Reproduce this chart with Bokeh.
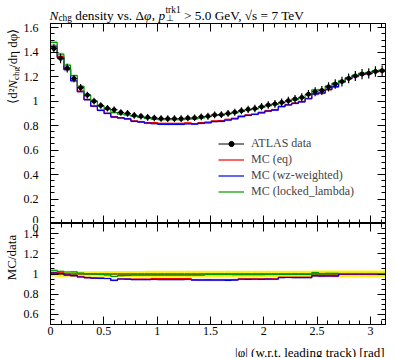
import numpy as np
from bokeh.plotting import figure
from bokeh.layouts import column, row
from bokeh.models import (Range1d, SingleIntervalTicker, FixedTicker, LinearAxis, Label,
                          Legend, LegendItem, CustomJSTickFormatter)
from bokeh.embed import file_html
from bokeh.resources import INLINE

SERIF = "Liberation Serif"

# ---------------- data ----------------
n_bins = 50
phi_min, phi_max = 0.0, np.pi

data_y = [1.430, 1.350, 1.270, 1.185, 1.110, 1.050, 1.000, 0.965, 0.942, 0.930,
          0.908, 0.900, 0.884, 0.877, 0.868, 0.863, 0.858, 0.857, 0.857, 0.857,
          0.862, 0.864, 0.872, 0.877, 0.888, 0.890, 0.900, 0.910, 0.922, 0.933,
          0.940, 0.955, 0.969, 0.978, 0.990, 1.004, 1.018, 1.031, 1.057, 1.077,
          1.088, 1.117, 1.140, 1.160, 1.186, 1.206, 1.222, 1.228, 1.243, 1.249]
data_err = [0.035, 0.040, 0.035, 0.030, 0.030, 0.028, 0.028, 0.027, 0.027, 0.027,
            0.027, 0.027, 0.027, 0.027, 0.027, 0.027, 0.027, 0.027, 0.027, 0.027,
            0.027, 0.027, 0.028, 0.028, 0.028, 0.028, 0.028, 0.029, 0.029, 0.030,
            0.030, 0.030, 0.031, 0.031, 0.032, 0.032, 0.033, 0.034, 0.035, 0.036,
            0.037, 0.038, 0.039, 0.040, 0.040, 0.041, 0.042, 0.042, 0.043, 0.043]
mc_eq = [1.451, 1.364, 1.264, 1.167, 1.082, 1.013, 0.960, 0.926, 0.900, 0.874,
         0.863, 0.855, 0.840, 0.833, 0.825, 0.824, 0.819, 0.818, 0.818, 0.818,
         0.823, 0.816, 0.824, 0.829, 0.839, 0.841, 0.851, 0.860, 0.878, 0.888,
         0.895, 0.909, 0.922, 0.931, 0.957, 0.971, 0.984, 0.997, 1.022, 1.061,
         1.066, 1.095, 1.117, 1.158, 1.184, 1.204, 1.220, 1.226, 1.241, 1.246]
mc_wz = [1.444, 1.357, 1.257, 1.167, 1.077, 1.013, 0.960, 0.924, 0.900, 0.870,
         0.863, 0.855, 0.835, 0.829, 0.820, 0.816, 0.811, 0.810, 0.810, 0.810,
         0.815, 0.812, 0.818, 0.823, 0.833, 0.835, 0.844, 0.855, 0.874, 0.884,
         0.891, 0.905, 0.919, 0.927, 0.955, 0.969, 0.982, 0.995, 1.020, 1.058,
         1.068, 1.097, 1.119, 1.160, 1.186, 1.206, 1.222, 1.228, 1.243, 1.249]
mc_ll = [1.480, 1.384, 1.295, 1.209, 1.121, 1.050, 1.000, 0.960, 0.933, 0.907,
         0.894, 0.887, 0.875, 0.868, 0.859, 0.854, 0.849, 0.848, 0.848, 0.848,
         0.853, 0.855, 0.863, 0.873, 0.884, 0.886, 0.896, 0.905, 0.917, 0.928,
         0.935, 0.950, 0.964, 0.973, 0.985, 0.999, 1.013, 1.026, 1.052, 1.093,
         1.093, 1.123, 1.146, 1.166, 1.192, 1.212, 1.228, 1.234, 1.249, 1.255]
mc_rel_err = [0.012, 0.012, 0.012, 0.011, 0.011, 0.011, 0.010, 0.010, 0.010, 0.010,
              0.010, 0.010, 0.010, 0.010, 0.010, 0.010, 0.010, 0.010, 0.010, 0.010,
              0.010, 0.010, 0.010, 0.010, 0.010, 0.010, 0.010, 0.010, 0.010, 0.010,
              0.010, 0.010, 0.010, 0.010, 0.010, 0.010, 0.010, 0.010, 0.010, 0.010,
              0.010, 0.010, 0.010, 0.010, 0.010, 0.010, 0.010, 0.010, 0.010, 0.010]

mc_names = ["MC (eq)", "MC (wz-weighted)", "MC (locked_lambda)"]
mc_values = [mc_eq, mc_wz, mc_ll]
mc_colors = ["#ee0000", "#0000ee", "#009a00"]
data_name = "ATLAS data"

main_y_range = (0.0, 1.635)
ratio_y_range = (0.5, 1.5)
ratio_major_ticks = [0.6, 0.8, 1.0, 1.2, 1.4]
ratio_minor_ticks = [0.5, 0.55, 0.6, 0.65, 0.7, 0.75, 0.8, 0.85, 0.9, 0.95, 1.0, 1.05, 1.1,
                     1.15, 1.2, 1.25, 1.3, 1.35, 1.4, 1.45, 1.5]
x_label = "|φ| (w.r.t. leading track) [rad]"
ratio_label = "MC/data"

# ---------------- derived binning ----------------
edges = np.linspace(phi_min, phi_max, n_bins + 1)
lo, hi = edges[:-1], edges[1:]
ctr = 0.5 * (lo + hi)
d = np.array(data_y)
de = np.array(data_err)
rel = np.array(mc_rel_err)

x_range = Range1d(phi_min, phi_max)

LEFT_TXT = 20      # width of the strip carrying the rotated y labels
FRAME_W = 335


def make_fig(frame_h, y_range, bottom):
    p = figure(frame_width=FRAME_W, frame_height=frame_h, x_range=x_range, y_range=y_range,
               output_backend="svg", toolbar_location=None,
               min_border_left=29, min_border_right=13,
               min_border_top=0, min_border_bottom=bottom,
               x_axis_type=None, y_axis_type=None)
    p.outline_line_color = "black"
    p.outline_line_width = 1
    p.background_fill_color = "white"
    p.border_fill_color = "white"
    return p


def text_fig(w, h):
    t = figure(width=w, height=h, x_range=Range1d(0, w), y_range=Range1d(0, h),
               output_backend="svg", toolbar_location=None,
               min_border_left=0, min_border_right=0, min_border_top=0, min_border_bottom=0,
               x_axis_type=None, y_axis_type=None)
    t.outline_line_color = None
    t.background_fill_color = "white"
    t.border_fill_color = "white"
    return t


def add_text(fig, x, y, text, size="13px", style="normal", align="left",
             baseline="alphabetic", angle=0.0):
    fig.add_layout(Label(x=x, y=y, x_units="screen", y_units="screen", text=text,
                         angle=angle, text_font=SERIF, text_font_size=size,
                         text_font_style=style, text_align=align,
                         text_baseline=baseline, text_color="black"))


fmt_empty = CustomJSTickFormatter(code="return '';")


def add_axis(p, side, ticker, formatter=None, standoff=5):
    ax = LinearAxis(ticker=ticker)
    ax.major_tick_in = 8
    ax.major_tick_out = 0
    ax.minor_tick_in = 4
    ax.minor_tick_out = 0
    ax.axis_line_color = "black"
    ax.major_tick_line_color = "black"
    ax.minor_tick_line_color = "black"
    if formatter is not None:
        ax.formatter = formatter
        ax.major_label_text_font = SERIF
        ax.major_label_text_font_size = "12px"
        ax.major_label_text_color = "black"
        ax.major_label_standoff = standoff
    else:
        ax.formatter = fmt_empty
        ax.major_label_text_font_size = "0px"
        ax.major_label_standoff = 0
    p.add_layout(ax, side)
    return ax


fmt_plain = CustomJSTickFormatter(code="return String(Math.round(tick*1000)/1000);")
# the main panel's "0" sits on the boundary; the ratio panel draws its lower half
fmt_ratio = CustomJSTickFormatter(
    code="var v = Math.round(tick*1000)/1000; return (v >= 1.5) ? '0' : String(v);")

# ---------------- main panel ----------------
p1 = make_fig(200, Range1d(*main_y_range), 0)
xt = SingleIntervalTicker(interval=0.5, num_minor_ticks=5)
yt1 = SingleIntervalTicker(interval=0.2, num_minor_ticks=4)
add_axis(p1, "below", xt)
add_axis(p1, "above", xt)
add_axis(p1, "left", yt1, fmt_plain, 12)
add_axis(p1, "right", yt1)

mc_renderers = []
for vals, col in zip(mc_values, mc_colors):
    v = np.array(vals)
    p1.quad(left=lo, right=hi, bottom=v * (1 - rel), top=v * (1 + rel),
            fill_color=col, fill_alpha=0.18, line_color=None)
for vals, col in zip(mc_values, mc_colors):
    v = np.array(vals)
    r = p1.step(x=edges, y=np.append(v, v[-1]), mode="after", line_color=col, line_width=1.2)
    mc_renderers.append(r)

p1.segment(x0=ctr, x1=ctr, y0=d - de, y1=d + de, line_color="black", line_width=1.2)
hseg = p1.segment(x0=lo, x1=hi, y0=d, y1=d, line_color="black", line_width=1)
dots = p1.scatter(x=ctr, y=d, size=4, marker="circle", fill_color="black", line_color="black")

items = [LegendItem(label=data_name, renderers=[hseg, dots])]
for name, r in zip(mc_names, mc_renderers):
    items.append(LegendItem(label=name, renderers=[r]))
legend = Legend(items=items, location=(168, 24))
legend.label_text_font = SERIF
legend.label_text_font_size = "12px"
legend.glyph_width = 26
legend.glyph_height = 13
legend.label_height = 13
legend.spacing = 1
legend.padding = 0
legend.margin = 0
legend.label_standoff = 7
legend.border_line_color = None
legend.background_fill_alpha = 0
p1.add_layout(legend)

# ---------------- ratio panel ----------------
p2 = make_fig(101, Range1d(*ratio_y_range), 16)
yt2 = FixedTicker(ticks=ratio_major_ticks + [ratio_y_range[1]], minor_ticks=ratio_minor_ticks)
add_axis(p2, "below", xt, fmt_plain, 2)
add_axis(p2, "above", xt)
add_axis(p2, "left", yt2, fmt_ratio, 12)
add_axis(p2, "right", FixedTicker(ticks=ratio_major_ticks, minor_ticks=ratio_minor_ticks))

p2.quad(left=lo, right=hi, bottom=1 - de / d, top=1 + de / d,
        fill_color="#ffee00", fill_alpha=0.95, line_color=None)
for vals, col in zip(mc_values, mc_colors):
    rv = np.array(vals) / d
    p2.quad(left=lo, right=hi, bottom=rv * (1 - rel), top=rv * (1 + rel),
            fill_color=col, fill_alpha=0.18, line_color=None)
dr = d / d
p2.step(x=edges, y=np.append(dr, dr[-1]), mode="after", line_color="black", line_width=1)
for vals, col in zip(mc_values, mc_colors):
    rv = np.array(vals) / d
    p2.step(x=edges, y=np.append(rv, rv[-1]), mode="after", line_color=col, line_width=1.2)

# ---------------- text strips ----------------
# title (page: frame starts at x=49)
title_fig = text_fig(397, 23)
ty = 8.5
tx = 49
TS = "13.3px"
TSS = "9.4px"
for dx, dy, t, fs, st in [
    (0.0, 0, "N", TS, "italic"),
    (8.9, -3, "chg", TSS, "normal"),
    (25.8, 0, "density vs. Δ", TS, "normal"),
    (94.4, 0, "φ", TS, "italic"),
    (102.3, 0, ",", TS, "normal"),
    (109.0, 0, "p", TS, "italic"),
    (116.0, 5, "trk1", TSS, "normal"),
    (116.0, -3, "⊥", TSS, "normal"),
    (134.5, 0, "> 5.0 GeV, √s = 7 TeV", TS, "normal"),
]:
    add_text(title_fig, tx + dx, ty + dy, t, fs, st)

# rotated y label of the main panel (centred pieces; strip bottom = frame bottom)
ylab1 = text_fig(LEFT_TXT, 200)
for x, yc, t, fs, st in [
    (12, 127.4, "⟨d²", "13px", "normal"),
    (12, 139.1, "N", "13px", "italic"),
    (15, 149.9, "chg", "9px", "normal"),
    (12, 175.2, "/dη dφ⟩", "13px", "normal"),
]:
    add_text(ylab1, x, yc, t, fs, st, align="center", baseline="middle", angle=np.pi / 2)

ylab2 = text_fig(LEFT_TXT, 101)
add_text(ylab2, 11, 51, ratio_label, "13px", align="center", baseline="middle",
         angle=np.pi / 2)

xlab = text_fig(397, 17)
add_text(xlab, 384, 5, x_label, "13px", align="right")

layout = column(title_fig, row(ylab1, p1, spacing=0), row(ylab2, p2, spacing=0), xlab,
                spacing=0)
open("out.html", "w").write(file_html(layout, INLINE))
